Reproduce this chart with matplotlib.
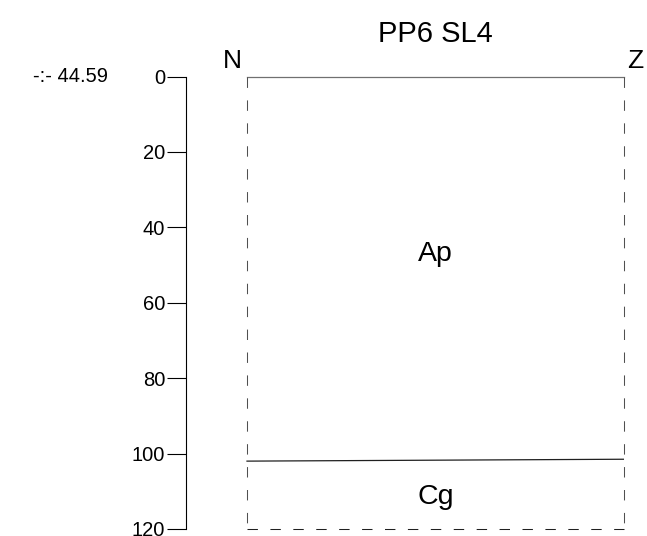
import matplotlib.pyplot as plt

plt.rcParams['font.family'] = ['Liberation Sans', 'DejaVu Sans']

# profile data
title = 'PP6 SL4'
elevation = '-:- 44.59'
horizons = ['Ap', 'Cg']
label_depths = [47, 111.5]
bounds_left = [0, 102, 120]
bounds_right = [0, 101.5, 120]
depth_ticks = [0, 20, 40, 60, 80, 100, 120]

fig = plt.figure(figsize=(6.47, 5.36), dpi=100)
ax = fig.add_axes([186 / 647, 7 / 536, 438 / 647, 452.5 / 536])

x0, x1 = 0.0, 1.0
ax.set_xlim(-61 / 377, 1.0)
ax.set_ylim(120, 0)

# top surface line
ax.plot([x0, x1], [bounds_left[0], bounds_right[0]], color='#707070', lw=0.9, clip_on=False)
# horizon boundaries
for yl, yr in zip(bounds_left[1:-1], bounds_right[1:-1]):
    ax.plot([x0, x1], [yl, yr], color='#202020', lw=0.9)
# bottom and sides dashed
ax.plot([x0, x1], [bounds_left[-1], bounds_right[-1]], color='#202020', lw=0.75,
        dashes=(10, 12), clip_on=False)
ax.plot([x0, x0], [bounds_left[0], bounds_left[-1]], color='#505050', lw=0.75,
        dashes=(10, 12), clip_on=False)
ax.plot([x1, x1], [bounds_right[0], bounds_right[-1]], color='#505050', lw=0.75,
        dashes=(10, 12), clip_on=False)

for name, d in zip(horizons, label_depths):
    ax.text((x0 + x1) / 2, d, name, ha='center', va='center', fontsize=20.5)

ax.text(x0 - 0.013, -0.8, 'N', ha='right', va='bottom', fontsize=19, clip_on=False)
ax.text(x1 + 0.008, -0.8, 'Z', ha='left', va='bottom', fontsize=19, clip_on=False)
ax.text((x0 + x1) / 2, -(76.5 - 42) / 3.77, title, ha='center', va='baseline',
        fontsize=21, clip_on=False)
fig.text(33 / 647, 1 - 76.5 / 536, elevation, ha='left', va='center', fontsize=14.5)

for s in ['top', 'right', 'bottom']:
    ax.spines[s].set_visible(False)
ax.spines['left'].set_linewidth(0.8)
ax.set_xticks([])
ax.set_yticks(depth_ticks)
ax.tick_params(axis='y', length=14, width=0.8, pad=1, labelsize=14.5)

fig.savefig('out.png', dpi=100)
